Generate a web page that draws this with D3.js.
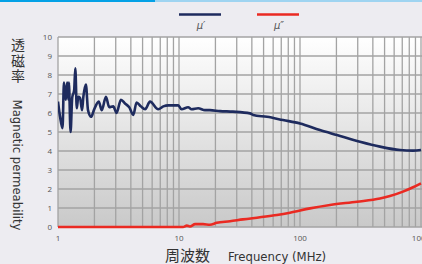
<!DOCTYPE html>
<html>
<head>
<meta charset="utf-8">
<script src="https://cdn.jsdelivr.net/npm/d3@7"></script>
<style>
  html, body { margin: 0; padding: 0; background: #edecf1; }
  svg { display: block; }
  .tick-label { font-family: "Open Sans", "DejaVu Sans", sans-serif; font-size: 8px; fill: #555; }
  .axis-title { font-family: "Liberation Sans Narrow", "DejaVu Sans Condensed", sans-serif; font-size: 13px; fill: #333; }
  .cjk { font-family: "Noto Sans CJK JP", sans-serif; font-size: 14px; fill: #333; }
  .legend-label { font-family: "DejaVu Sans", sans-serif; font-style: italic; font-size: 10px; fill: #555; }
</style>
</head>
<body>
<svg id="chart" width="422" height="264"></svg>
<script>
// frequency in MHz, permeability
const muRealFreq = [1.00, 1.04, 1.09, 1.12, 1.16, 1.19, 1.22, 1.23, 1.27, 1.31, 1.36, 1.39, 1.43, 1.47,
    1.52, 1.58, 1.62, 1.70, 1.77, 1.88, 1.98, 2.17, 2.30, 2.49, 2.65, 2.86, 3.05, 3.31, 3.58, 3.88,
    4.19, 4.46, 4.83, 5.25, 5.76, 6.74, 7.42, 8.16, 9.86, 10.5, 11.9, 12.7, 14.4, 16.4, 18.0, 21.8,
    27.9, 38.6, 41.0, 53.4, 72.4, 100, 146, 202, 313, 458, 670, 859, 1000];
const muRealValue = [6.6, 5.8, 5.2, 7.6, 6.7, 7.6, 6.7, 7.6, 5.0, 6.8, 7.2, 8.35, 6.25, 6.85,
    6.8, 6.15, 6.85, 7.5, 6.15, 5.8, 6.15, 6.6, 6.15, 6.85, 6.3, 6.35, 6.0, 6.7, 6.5, 6.3,
    5.9, 6.55, 6.35, 6.2, 6.6, 6.2, 6.35, 6.4, 6.4, 6.2, 6.3, 6.2, 6.25, 6.15, 6.15, 6.1,
    6.07, 5.98, 5.9, 5.8, 5.63, 5.45, 5.1, 4.84, 4.49, 4.23, 4.05, 4.02, 4.05];

const muImagFreq = [1, 10.8, 11.6, 12.3, 13.6, 15.8, 18.0, 20.5, 26.4, 33.8, 46.7, 64.5, 82.6,
    121, 177, 296, 458, 554, 710, 859, 1000];
const muImagValue = [0, 0, 0.07, 0.03, 0.15, 0.15, 0.12, 0.22, 0.3, 0.4, 0.51, 0.63, 0.75,
    0.98, 1.16, 1.33, 1.5, 1.63, 1.86, 2.09, 2.3];

const xTicks = [1, 10, 100, 1000];
const yTicks = [0, 1, 2, 3, 4, 5, 6, 7, 8, 9, 10];
const legendNames = ["μ′", "μ″"];
const seriesColors = ["#1e2b5e", "#ea2a22"];

const svg = d3.select("#chart");
const plotLeft = 58, plotRight = 421, plotTop = 37, plotBottom = 227;

const x = d3.scaleLog().domain([1, 1000]).range([plotLeft, plotRight]);
const y = d3.scaleLinear().domain([0, 10]).range([plotBottom, plotTop]);

// top stripe
svg.append("rect").attr("x", 0).attr("y", 0).attr("width", 422).attr("height", 2).attr("fill", "#9fd4f1");
svg.append("rect").attr("x", 0).attr("y", 0).attr("width", 155).attr("height", 2).attr("fill", "#04a1e6");

// plot background
let defs = svg.append("defs");
let grad = defs.append("linearGradient")
    .attr("id", "bg").attr("x1", 0).attr("y1", 0).attr("x2", 0).attr("y2", 1);
grad.append("stop").attr("offset", "0%").attr("stop-color", "#ffffff");
grad.append("stop").attr("offset", "100%").attr("stop-color", "#c9c9c9");
defs.append("clipPath").attr("id", "plotclip").append("rect")
    .attr("x", plotLeft).attr("y", plotTop - 3)
    .attr("width", plotRight - plotLeft + 2).attr("height", plotBottom - plotTop + 6);

svg.append("rect")
    .attr("x", plotLeft).attr("y", plotTop)
    .attr("width", 422 - plotLeft).attr("height", plotBottom - plotTop)
    .attr("fill", "url(#bg)");

// grid
let grid = svg.append("g").attr("stroke", "#a3a3a3").attr("stroke-width", 1.3);
let minor = [];
for (let d = 1; d < 1000; d *= 10) {
    for (let k = 1; k < 10; k++) minor.push(d * k);
}
minor.push(1000);
grid.selectAll("line.v").data(minor).enter().append("line")
    .attr("x1", d => x(d)).attr("x2", d => x(d))
    .attr("y1", plotTop).attr("y2", plotBottom);
grid.selectAll("line.h").data(yTicks).enter().append("line")
    .attr("x1", plotLeft).attr("x2", 422)
    .attr("y1", d => y(d)).attr("y2", d => y(d));

// tick labels
svg.selectAll("text.ytick").data(yTicks).enter().append("text")
    .attr("class", "tick-label")
    .attr("x", 52).attr("y", d => y(d) + 3)
    .attr("text-anchor", "end")
    .text(d => d);
svg.selectAll("text.xtick").data(xTicks).enter().append("text")
    .attr("class", "tick-label")
    .attr("x", d => x(d)).attr("y", 241)
    .attr("text-anchor", "middle")
    .text(d => d);

// series
let line = d3.line()
    .x(d => x(d[0]))
    .y(d => y(d[1]))
    .curve(d3.curveMonotoneX);
let plot = svg.append("g").attr("clip-path", "url(#plotclip)");
plot.append("path")
    .attr("d", line(muImagFreq.map((f, i) => [f, muImagValue[i]])))
    .attr("fill", "none").attr("stroke", seriesColors[1]).attr("stroke-width", 2.6);
plot.append("path")
    .attr("d", line(muRealFreq.map((f, i) => [f, muRealValue[i]])))
    .attr("fill", "none").attr("stroke", seriesColors[0]).attr("stroke-width", 2.6)
    .attr("stroke-linejoin", "round");

// legend
let legend = svg.append("g");
legendNames.forEach((name, i) => {
    let cx = 200 + i * 78;
    legend.append("line")
        .attr("x1", cx - 21).attr("x2", cx + 21)
        .attr("y1", 14.5).attr("y2", 14.5)
        .attr("stroke", seriesColors[i]).attr("stroke-width", 2.5);
    legend.append("text")
        .attr("class", "legend-label")
        .attr("x", cx + 1).attr("y", 29)
        .attr("text-anchor", "middle")
        .text(name);
});

// axis titles: japanese stacked upright, english turned
svg.append("text").attr("class", "cjk")
    .style("writing-mode", "vertical-rl")
    .style("text-orientation", "upright")
    .style("letter-spacing", "1.5px")
    .attr("x", 18).attr("y", 38)
    .text("透磁率");
svg.append("text").attr("class", "axis-title")
    .attr("transform", "translate(13,165) rotate(90)")
    .attr("text-anchor", "middle")
    .text("Magnetic permeability");

svg.append("text").attr("class", "cjk")
    .style("font-size", "15px")
    .attr("x", 165).attr("y", 261)
    .text("周波数");
svg.append("text").attr("class", "axis-title")
    .attr("x", 228).attr("y", 261)
    .text("Frequency (MHz)");
</script>
</body>
</html>
